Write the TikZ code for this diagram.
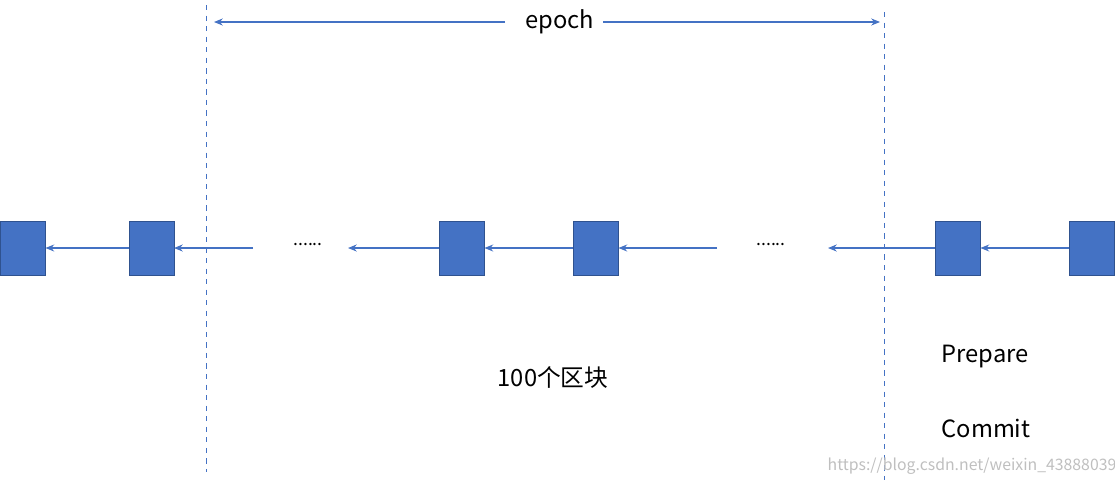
\documentclass[tikz,border=0pt]{standalone}
\usepackage{fontspec}
\setmainfont{Noto Sans CJK SC}
\usetikzlibrary{arrows.meta}
\definecolor{blk}{HTML}{4472C4}
\definecolor{blkb}{HTML}{2F528F}
\begin{document}
\begin{tikzpicture}[x=0.02cm,y=-0.02cm,
 block/.style={draw=blkb,fill=blk,minimum width=0.9cm,minimum height=1.08cm,inner sep=0,line width=0.5pt},
 arr/.style={-{Stealth[length=5pt,width=4pt]},draw=blk,line width=0.6pt},
 sep/.style={draw=blk,dashed,line width=0.5pt},
 lbl/.style={font=\fontsize{13.5}{16}\selectfont}]
\useasboundingbox (0,0) rectangle (1115,484);
\node[block] (b1) at (22.5,248) {};
\node[block] (b2) at (151.5,248) {};
\node[block] (b3) at (461.5,248) {};
\node[block] (b4) at (595.5,248) {};
\node[block] (b5) at (957.5,248) {};
\node[block] (b6) at (1091.5,248) {};
\coordinate (a1s) at (253,248); \coordinate (a1e) at (174,248);
\coordinate (a2e) at (348,248);
\coordinate (a3s) at (717,248);
\coordinate (a4e) at (828,248);
\node (d1) at (308,244) {......};
\node (d2) at (771,244) {......};
\draw[arr] (b2.west) -- (b1.east);
\draw[arr] (a1s) -- (a1e);
\draw[arr] (b3.west) -- (a2e);
\draw[arr] (b4.west) -- (b3.east);
\draw[arr] (a3s) -- (b4.east);
\draw[arr] (b5.west) -- (a4e);
\draw[arr] (b6.west) -- (b5.east);
\coordinate (l1t) at (206,5); \coordinate (l1b) at (206,472);
\coordinate (l2t) at (884,12); \coordinate (l2b) at (884,480);
\draw[sep] (l1t) -- (l1b);
\draw[sep] (l2t) -- (l2b);
\node[lbl] (ep) at (560,22) {epoch};
\coordinate (e1) at (214,22); \coordinate (e2) at (880,22);
\draw[arr] (505,22) -- (e1);
\draw[arr] (603,22) -- (e2);
\node[lbl] (hb) at (553,377) {100个区块};
\node[lbl] (pr) at (985,357) {Prepare};
\node[lbl] (cm) at (986,428) {Commit};
\node[text=black!25,font=\fontsize{9}{11}\selectfont] (wm) at (972,466) {https://blog.csdn.net/weixin\_43888039};
\end{tikzpicture}
\end{document}
